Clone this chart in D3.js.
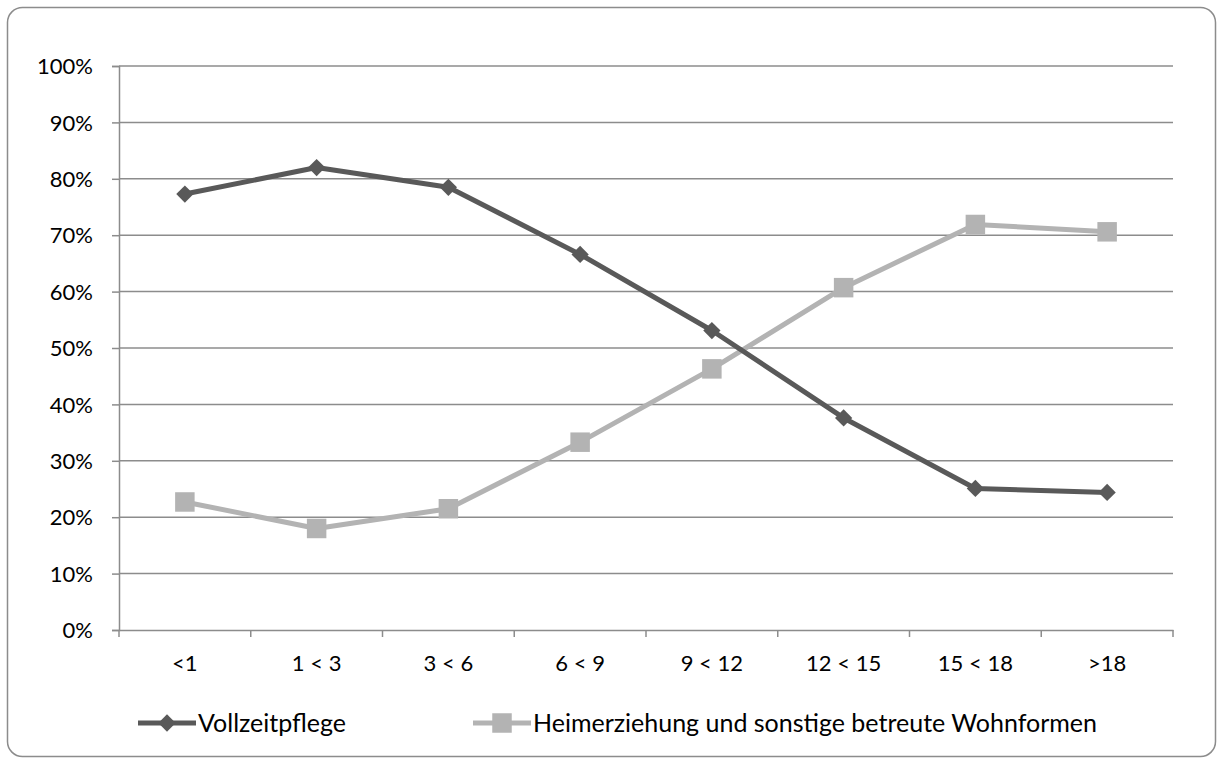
<!DOCTYPE html>
<html>
<head>
<meta charset="utf-8">
<script src="https://cdn.jsdelivr.net/npm/d3@7"></script>
<style>
  html, body { margin: 0; padding: 0; background: #fff; }
  svg { display: block; }
  text { font-family: Lato, "Open Sans", sans-serif; fill: #000; }
</style>
</head>
<body>
<svg id="chart" width="1217" height="758"></svg>
<script>
// Altersgruppen (Jahre)
const categories = ["<1", "1 < 3", "3 < 6", "6 < 9", "9 < 12", "12 < 15", "15 < 18", ">18"];
// Anteile in Prozent
const vollzeitpflege = [77.3, 82.0, 78.5, 66.6, 53.1, 37.6, 25.1, 24.4];
const heimerziehung = [22.7, 18.0, 21.5, 33.3, 46.3, 60.7, 71.9, 70.6];
const yTicks = [0, 10, 20, 30, 40, 50, 60, 70, 80, 90, 100];
const seriesNames = ["Vollzeitpflege", "Heimerziehung und sonstige betreute Wohnformen"];

const svg = d3.select("#chart");
const W = 1217, H = 758;
const m = { left: 119, right: 1173, top: 66, bottom: 630 };

// Rahmen
svg.append("rect")
  .attr("x", 7.5).attr("y", 7.5)
  .attr("width", W - 9).attr("height", H - 9)
  .attr("rx", 15).attr("ry", 15)
  .attr("fill", "#fff").attr("stroke", "#8c8c8c").attr("stroke-width", 1.5);

const x = d3.scaleBand().domain(categories).range([m.left, m.right]).padding(0);
const y = d3.scaleLinear().domain([0, 100]).range([m.bottom, m.top]);

// Gitternetz
svg.append("g")
  .selectAll("line")
  .data(yTicks.filter(d => d > 0))
  .join("line")
  .attr("x1", m.left).attr("x2", m.right)
  .attr("y1", d => y(d)).attr("y2", d => y(d))
  .attr("stroke", "#8c8c8c").attr("stroke-width", 1.5);

// Y-Achse
const yAxis = svg.append("g")
  .attr("transform", `translate(${m.left},0)`)
  .call(d3.axisLeft(y).tickValues(yTicks).tickFormat(d => d + "%").tickSize(7).tickPadding(19));
yAxis.select(".domain").attr("stroke", "#8c8c8c").attr("stroke-width", 1.5);
yAxis.selectAll(".tick line").attr("stroke", "#8c8c8c").attr("stroke-width", 1.5);
yAxis.selectAll("text").style("font-size", "22px").attr("fill", "#000").attr("dy", "0.35em");

// X-Achse
const xAxis = svg.append("g")
  .attr("transform", `translate(0,${m.bottom})`)
  .call(d3.axisBottom(x).tickSize(0).tickPadding(25));
xAxis.select(".domain").attr("stroke", "#8c8c8c").attr("stroke-width", 1.5);
xAxis.selectAll("text").style("font-size", "22px").attr("fill", "#000");
// Teilstriche zwischen den Kategorien
const bounds = categories.map(c => x(c)).concat([m.right]);
svg.append("g").selectAll("line").data(bounds).join("line")
  .attr("x1", d => d).attr("x2", d => d)
  .attr("y1", m.bottom).attr("y2", m.bottom + 7)
  .attr("stroke", "#8c8c8c").attr("stroke-width", 1.5);

const cx = c => x(c) + x.bandwidth() / 2;
const line = d3.line().x(d => cx(d.c)).y(d => y(d.v));

const colors = ["#595959", "#b3b3b3"];
const data = [vollzeitpflege, heimerziehung].map(arr => arr.map((v, i) => ({ c: categories[i], v })));

const diamond = d3.symbol().type(d3.symbolDiamond2).size(190);
const square = d3.symbol().type(d3.symbolSquare).size(380);

// Heimerziehung
svg.append("path").datum(data[1]).attr("d", line)
  .attr("fill", "none").attr("stroke", colors[1]).attr("stroke-width", 5).attr("stroke-linejoin", "round");
svg.append("g").selectAll("path").data(data[1]).join("path")
  .attr("d", square).attr("transform", d => `translate(${cx(d.c)},${y(d.v)})`)
  .attr("fill", colors[1]);

// Vollzeitpflege
svg.append("path").datum(data[0]).attr("d", line)
  .attr("fill", "none").attr("stroke", colors[0]).attr("stroke-width", 5).attr("stroke-linejoin", "round");
svg.append("g").selectAll("path").data(data[0]).join("path")
  .attr("d", diamond).attr("transform", d => `translate(${cx(d.c)},${y(d.v)})`)
  .attr("fill", colors[0]);

// Legende
const legY = 723;
const legend = [
  { x0: 138, x1: 196, name: seriesNames[0], color: colors[0], sym: diamond },
  { x0: 473, x1: 531, name: seriesNames[1], color: colors[1], sym: square }
];
legend.forEach(l => {
  svg.append("line").attr("x1", l.x0).attr("x2", l.x1).attr("y1", legY).attr("y2", legY)
    .attr("stroke", l.color).attr("stroke-width", 5);
  svg.append("path").attr("d", l.sym).attr("transform", `translate(${(l.x0 + l.x1) / 2},${legY})`)
    .attr("fill", l.color);
  svg.append("text").attr("x", l.x1 + 2).attr("y", legY).attr("dy", "0.35em")
    .style("font-size", "25px").text(l.name);
});
</script>
</body>
</html>
